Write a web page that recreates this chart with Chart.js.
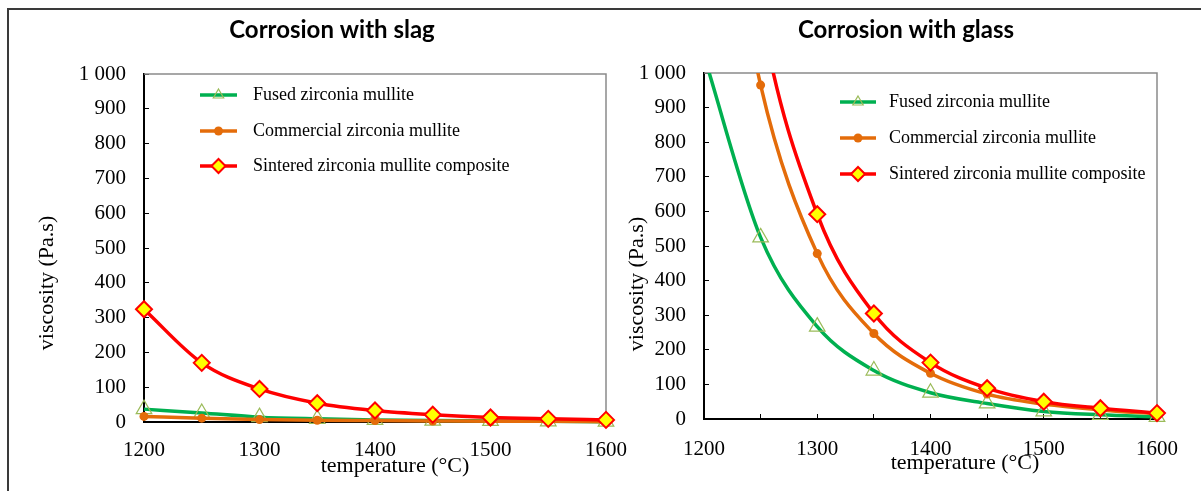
<!DOCTYPE html>
<html>
<head>
<meta charset="utf-8">
<script src="https://cdn.jsdelivr.net/npm/chart.js@4.4.1/dist/chart.umd.min.js"></script>
<style>
  html, body { margin: 0; padding: 0; background: #fff; }
  #wrap { position: relative; width: 1201px; height: 491px; overflow: hidden; }
  #frame { position: absolute; left: 7px; top: 8px; width: 1300px; height: 600px;
           border-top: 2px solid #3a3a3a; border-left: 2px solid #3a3a3a; }
  canvas { position: absolute; left: 0; top: 0; }
</style>
</head>
<body>
<div id="wrap">
  <div id="frame"></div>
  <canvas id="slagChart" width="1201" height="491"></canvas>
  <canvas id="glassChart" width="1201" height="491"></canvas>
</div>
<script>
// temperatures (°C) and viscosities (Pa.s)
var temperatures = [1200, 1250, 1300, 1350, 1400, 1450, 1500, 1550, 1600];

var slagFused      = [37, 26, 14, 9, 6, 4, 3, 2, 1];
var slagCommercial = [16, 11, 7, 5, 4, 3, 2, 2, 1];
var slagSintered   = [324, 170, 95, 54, 33, 21, 13, 9, 6];

var glassFused      = [1050, 525, 267, 140, 76, 45, 22, 12, 6];
var glassCommercial = [1900, 965, 478, 247, 132, 72, 43, 26, 15];
var glassSintered   = [2400, 1180, 592, 305, 163, 89, 50, 31, 17];

var seriesNames = ['Fused zirconia mullite', 'Commercial zirconia mullite', 'Sintered zirconia mullite composite'];
var yTickLabels = ['0', '100', '200', '300', '400', '500', '600', '700', '800', '900', '1 000'];
var xTickLabels = ['1200', '1300', '1400', '1500', '1600'];

var serif = '"Liberation Serif", "Times New Roman", serif';

var styles = [
  { line: '#00B050', pointStyle: 'triangle', radius: 9, legendRadius: 6, fill: 'rgba(255,255,255,0)', border: '#9BBB59', bw: 1.2 },
  { line: '#E46C0A', pointStyle: 'circle', radius: 4.5, legendRadius: 4.5, fill: '#E46C0A', border: '#E46C0A', bw: 0 },
  { line: '#FF0000', pointStyle: 'rectRot', radius: 8, legendRadius: 7, fill: '#FFFF00', border: '#FF0000', bw: 2 }
];

function toPoints(values) {
  return temperatures.map(function(t, i) { return { x: t, y: values[i] }; });
}

function makeDatasets(lists, clip) {
  return lists.map(function(values, i) {
    var s = styles[i];
    return {
      label: seriesNames[i],
      data: toPoints(values),
      borderColor: s.line,
      borderWidth: 3.5,
      cubicInterpolationMode: 'monotone',
      pointStyle: s.pointStyle,
      pointRadius: s.radius,
      pointBackgroundColor: s.fill,
      pointBorderColor: s.border,
      pointBorderWidth: s.bw,
      order: 3 - i,
      clip: clip
    };
  });
}

// frame, titles and the in-plot legend
var decor = {
  id: 'decor',
  beforeDatasetsDraw: function(chart, args, o) {
    var a = chart.chartArea, ctx = chart.ctx;
    ctx.save();
    ctx.strokeStyle = '#8a8a8a';
    ctx.lineWidth = 1.5;
    ctx.beginPath();
    ctx.moveTo(a.left, a.top);
    ctx.lineTo(a.right, a.top);
    ctx.lineTo(a.right, a.bottom);
    ctx.stroke();
    ctx.restore();
  },
  afterDraw: function(chart, args, o) {
    var ctx = chart.ctx;
    ctx.save();
    ctx.fillStyle = '#000';
    ctx.textAlign = 'center';
    ctx.textBaseline = 'middle';

    ctx.font = 'bold 24px Lato, "Open Sans", sans-serif';
    ctx.fillText(o.title, o.titleX, o.titleY);

    ctx.font = '22px ' + serif;
    ctx.fillText('temperature (°C)', o.xTitleX, o.xTitleY);

    ctx.save();
    ctx.translate(o.yTitleX, o.yTitleY);
    ctx.rotate(-Math.PI / 2);
    ctx.fillText('viscosity (Pa.s)', 0, 0);
    ctx.restore();

    ctx.font = '18px ' + serif;
    ctx.textAlign = 'left';
    for (var i = 0; i < seriesNames.length; i++) {
      var s = styles[i], y = o.legendRows[i];
      ctx.strokeStyle = s.line;
      ctx.lineWidth = 3.5;
      ctx.beginPath();
      ctx.moveTo(o.legendLine[0], y);
      ctx.lineTo(o.legendLine[1], y);
      ctx.stroke();
      ctx.fillStyle = s.fill;
      ctx.strokeStyle = s.border;
      ctx.lineWidth = s.bw;
      Chart.helpers.drawPoint(ctx, { pointStyle: s.pointStyle, radius: s.legendRadius, rotation: 0, borderWidth: s.bw },
        (o.legendLine[0] + o.legendLine[1]) / 2, y);
      ctx.fillStyle = '#000';
      ctx.fillText(seriesNames[i], o.legendText, y);
    }
    ctx.restore();
  }
};

function makeChart(id, lists, padding, clip, xTicksInside, decorOpts) {
  return new Chart(document.getElementById(id), {
    type: 'line',
    data: { datasets: makeDatasets(lists, clip) },
    plugins: [decor],
    options: {
      responsive: false,
      animation: false,
      devicePixelRatio: 1,
      layout: { padding: padding },
      plugins: { legend: { display: false }, tooltip: { enabled: false }, decor: decorOpts },
      scales: {
        x: {
          type: 'linear',
          min: 1200, max: 1600,
          afterFit: function(s) { s.height = 40; },
          border: { color: '#000', width: 2 },
          grid: { display: xTicksInside, drawOnChartArea: false, drawTicks: xTicksInside, tickLength: -5, color: '#000', lineWidth: 1 },
          ticks: {
            stepSize: 50,
            autoSkip: false,
            maxRotation: 0,
            padding: xTicksInside ? 23 : 16,
            color: '#000',
            font: { family: serif, size: 21 },
            callback: function(v, i) { return i % 2 === 0 ? xTickLabels[i / 2] : ''; }
          }
        },
        y: {
          min: 0, max: 1000,
          afterFit: function(s) { s.width = 80; },
          border: { color: '#000', width: 2 },
          grid: { drawOnChartArea: false, drawTicks: true, tickLength: -5, color: '#000', lineWidth: 1 },
          ticks: {
            stepSize: 100,
            padding: 23,
            color: '#000',
            font: { family: serif, size: 21 },
            callback: function(v, i) { return yTickLabels[i]; }
          }
        }
      }
    }
  });
}

makeChart('slagChart', [slagFused, slagCommercial, slagSintered],
  { left: 64, right: 595, top: 74, bottom: 29 }, false, false,
  { title: 'Corrosion with slag', titleX: 332, titleY: 30,
    xTitleX: 395, xTitleY: 466, yTitleX: 47, yTitleY: 283,
    legendLine: [200, 237], legendText: 253, legendRows: [95, 131, 166] });

makeChart('glassChart', [glassFused, glassCommercial, glassSintered],
  { left: 624, right: 35, top: 73, bottom: 32 }, { top: 0, left: false, right: false, bottom: false }, true,
  { title: 'Corrosion with glass', titleX: 906, titleY: 30,
    xTitleX: 965, xTitleY: 463, yTitleX: 637, yTitleY: 284,
    legendLine: [840, 876], legendText: 889, legendRows: [102, 138, 174] });
</script>
</body>
</html>
